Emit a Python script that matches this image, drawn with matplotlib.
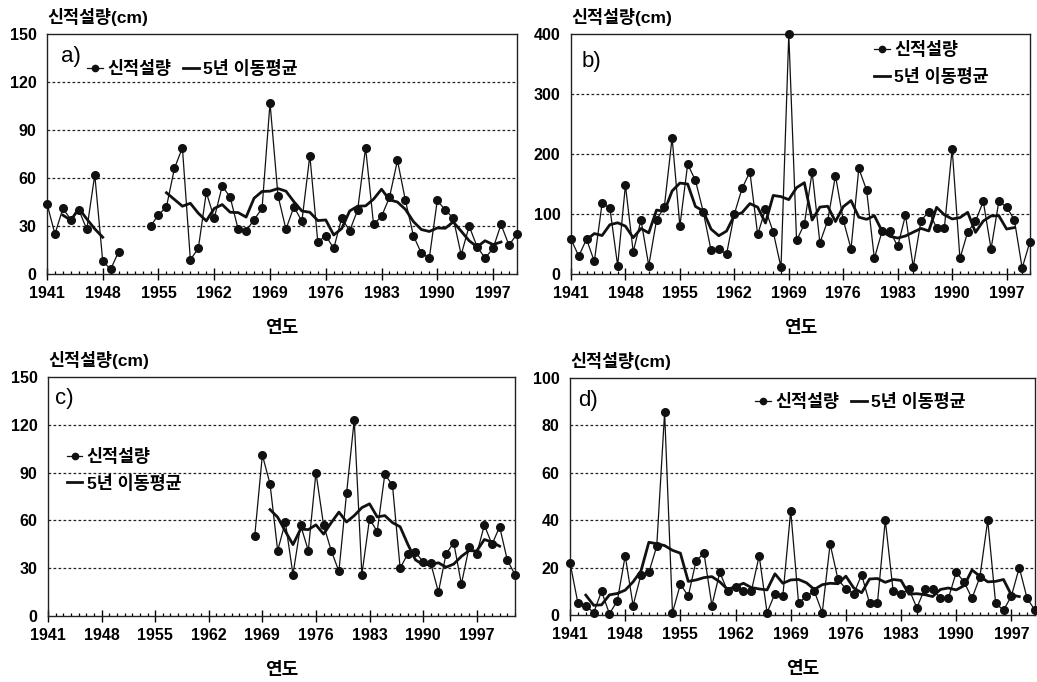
import numpy as np
import pandas as pd
import matplotlib
matplotlib.use("Agg")
import matplotlib.pyplot as plt
from matplotlib.lines import Line2D
from matplotlib.ticker import MultipleLocator, FixedLocator

plt.rcParams['font.family'] = ['Liberation Sans', 'Noto Sans CJK KR', 'DejaVu Sans']

nan = np.nan

# ---- data ----
years_a = list(range(1941, 2001))
snow_a = [44, 25, 41, 34, 40, 28, 62, 8, 3, 14,
          nan, nan, nan, 30, 37, 42, 66, 79, 9, 16,
          51, 35, 55, 48, 28, 27, 34, 41, 107, 49,
          28, 42, 33, 74, 20, 24, 16, 35, 27, 40,
          79, 31, 36, 48, 71, 46, 24, 13, 10, 46,
          40, 35, 12, 30, 17, 10, 16, 31, 18, 25]

years_b = list(range(1941, 2001))
snow_b = [58, 30, 58, 21, 118, 110, 14, 148, 37, 90,
          14, 90, 112, 227, 80, 183, 156, 104, 40, 42,
          33, 100, 143, 170, 66, 108, 70, 11, 400, 56,
          83, 170, 52, 89, 164, 90, 42, 176, 140, 26,
          72, 72, 46, 98, 12, 89, 104, 77, 77, 209,
          26, 70, 88, 121, 42, 121, 112, 90, 10, 54]

years_c = list(range(1968, 2003))
snow_c = [50, 101, 83, 41, 59, 26, 57, 41, 90, 57,
          41, 28, 77, 123, 26, 61, 53, 89, 82, 30,
          39, 40, 34, 33, 15, 39, 46, 20, 43, 39,
          57, 45, 56, 35, 26]

years_d = list(range(1941, 2001))
snow_d = [22, 5, 4, 1, 10, 0.5, 6, 25, 4, 17,
          18, 29, 85.5, 1, 13, 8, 23, 26, 4, 18,
          10, 12, 10, 10, 25, 1, 9, 8, 44, 5,
          8, 10, 1, 30, 15, 11, 9, 17, 5, 5,
          40, 10, 9, 11, 3, 11, 11, 7, 7, 18,
          14, 7, 16, 40, 5, 2, 8, 20, 7, 2]

major_years = [1941, 1948, 1955, 1962, 1969, 1976, 1983, 1990, 1997]
ylabel_text = "신적설량(cm)"
xlabel_text = "연도"
series_label = "신적설량"
ma_label = "5년 이동평균"

panels = [
    dict(tag="a)", years=years_a, vals=snow_a, xmax=2000, ymax=150, ystep=30,
         rect=[0.0453, 0.5982, 0.4532, 0.3519], ncol=2, anchor=(0.085, 0.858), lab=(0.030, 0.905)),
    dict(tag="b)", years=years_b, vals=snow_b, xmax=2000, ymax=400, ystep=100,
         rect=[0.5506, 0.5982, 0.4426, 0.3519], ncol=1, anchor=(0.660, 0.880), lab=(0.022, 0.885)),
    dict(tag="c)", years=years_c, vals=snow_c, xmax=2002, ymax=150, ystep=30,
         rect=[0.0463, 0.0968, 0.4503, 0.3504], ncol=1, anchor=(0.040, 0.612), lab=(0.015, 0.912)),
    dict(tag="d)", years=years_d, vals=snow_d, xmax=2000, ymax=100, ystep=20,
         rect=[0.5497, 0.0982, 0.4484, 0.3475], ncol=2, anchor=(0.398, 0.900), lab=(0.017, 0.907)),
]

fig = plt.figure(figsize=(10.37, 6.82), dpi=100)

for p in panels:
    ax = fig.add_axes(p["rect"])
    s = pd.Series(p["vals"], index=p["years"], dtype=float)
    ma = s.rolling(5, center=True).mean()

    ax.plot(s.index, s.values, color='#111111', lw=0.9, marker='o', ms=5.5,
            markerfacecolor='#111111', markeredgecolor='#111111', clip_on=False, zorder=4)
    ax.plot(ma.index, ma.values, color='#111111', lw=2.0, zorder=5, clip_on=False)

    ax.set_xlim(1941, p["xmax"])
    ax.set_ylim(0, p["ymax"])
    ax.xaxis.set_major_locator(FixedLocator(major_years))
    ax.xaxis.set_minor_locator(MultipleLocator(1))
    ax.yaxis.set_major_locator(MultipleLocator(p["ystep"]))

    ax.tick_params(axis='x', which='major', direction='inout', length=9, width=1.0,
                   pad=4, labelsize=11.5)
    ax.tick_params(axis='x', which='minor', direction='in', length=2.5, width=0.9)
    ax.tick_params(axis='y', which='major', length=0, pad=7.5, labelsize=11.5)
    for lbl in ax.get_xticklabels() + ax.get_yticklabels():
        lbl.set_fontweight('bold')

    for yv in np.arange(p["ystep"], p["ymax"], p["ystep"]):
        ax.axhline(yv, color='#222222', lw=0.9, ls=(0, (2.2, 1.8)), zorder=1)

    for sp in ax.spines.values():
        sp.set_linewidth(1.0)
        sp.set_color('#222222')

    ax.text(p["lab"][0], p["lab"][1], p["tag"], transform=ax.transAxes,
            fontsize=16, ha='left', va='center')
    ax.text(0.0, 1.071, ylabel_text, transform=ax.transAxes, fontsize=12.5,
            fontweight='bold', ha='left', va='center')
    ax.text(0.5, -0.229, xlabel_text, transform=ax.transAxes, fontsize=13,
            fontweight='bold', ha='center', va='center')

    handles = [Line2D([], [], color='#111111', lw=0.9, marker='o', ms=4.5),
               Line2D([], [], color='#111111', lw=2.0)]
    ax.legend(handles, [series_label, ma_label], loc='center left',
              bbox_to_anchor=p["anchor"], ncol=p["ncol"], frameon=False,
              handlelength=0.9, handletextpad=0.25, columnspacing=0.7,
              labelspacing=0.55, borderpad=0, borderaxespad=0,
              prop={'weight': 'bold', 'size': 12.5})

fig.savefig("out.png", dpi=100)
